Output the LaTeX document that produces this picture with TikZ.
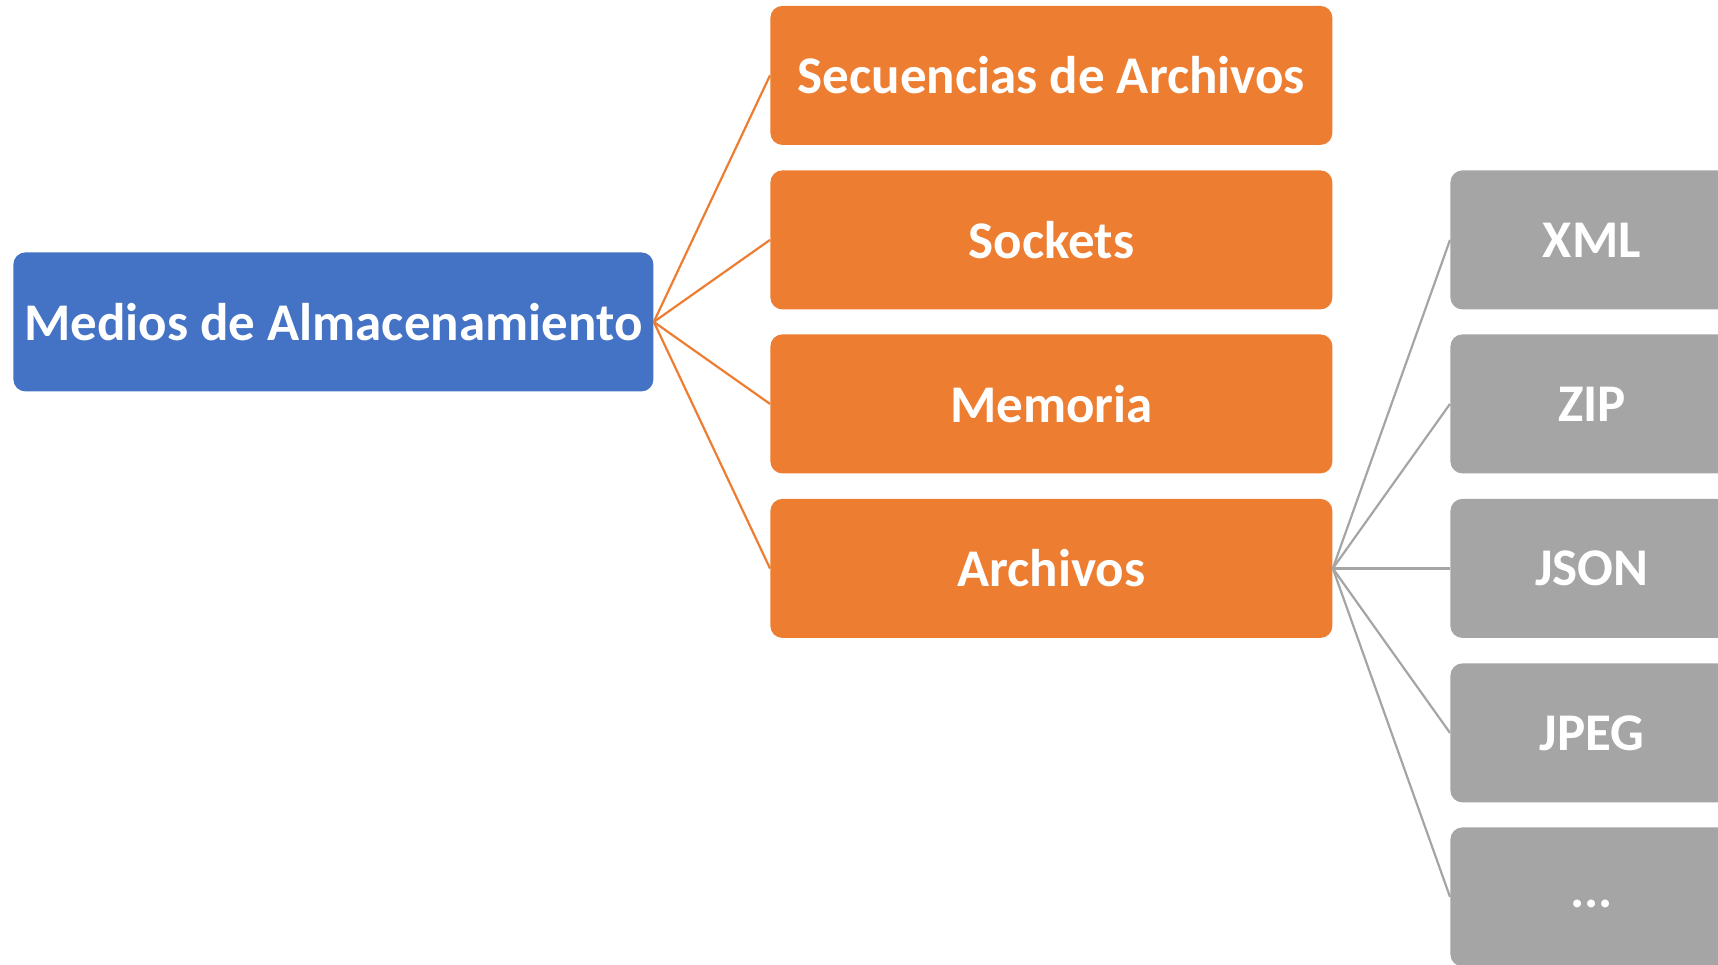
\documentclass[tikz,border=0pt]{standalone}
\usepackage{fontspec}
\setmainfont{Carlito}
\definecolor{ablue}{HTML}{4472C4}
\definecolor{aorange}{HTML}{ED7D31}
\definecolor{agray}{HTML}{A5A5A5}
\begin{document}
\begin{tikzpicture}[x=0.5pt,y=-0.5pt,
  box/.style={anchor=north west, rounded corners=6pt, inner sep=0pt, text=white,
    font=\bfseries\fontsize{26.5pt}{30pt}\selectfont, minimum height=69.5pt},
  bluebox/.style={box, fill=ablue, minimum width=320pt},
  orangebox/.style={box, fill=aorange, minimum width=281pt},
  graybox/.style={box, fill=agray, minimum width=141.5pt},
  oline/.style={draw=aorange, line width=1.1pt},
  gline/.style={draw=agray, line width=1.1pt}]
\useasboundingbox (0,0) rectangle (1718,964);
\clip (0,0) rectangle (1718,964);
\node[bluebox] (root) at (13,252) {Medios de Almacenamiento};
\node[orangebox] (sec) at (770,5.5) {Secuencias de Archivos};
\node[orangebox] (soc) at (770,170) {Sockets};
\node[orangebox] (mem) at (770,334) {Memoria};
\node[orangebox] (arc) at (770,498.5) {Archivos};
\node[graybox] (xml) at (1450,170) {XML};
\node[graybox] (zip) at (1450,334) {ZIP};
\node[graybox] (json) at (1450,498.5) {JSON};
\node[graybox] (jpeg) at (1450,663) {JPEG};
\node[graybox] (etc) at (1450,827) {\smash{\raisebox{-5.5pt}{...}}};
\draw[oline] (root.east) -- (sec.west);
\draw[oline] (root.east) -- (soc.west);
\draw[oline] (root.east) -- (mem.west);
\draw[oline] (root.east) -- (arc.west);
\draw[gline] (arc.east) -- (xml.west);
\draw[gline] (arc.east) -- (zip.west);
\draw[gline] (arc.east) -- (json.west);
\draw[gline] (arc.east) -- (jpeg.west);
\draw[gline] (arc.east) -- (etc.west);
\end{tikzpicture}
\end{document}
